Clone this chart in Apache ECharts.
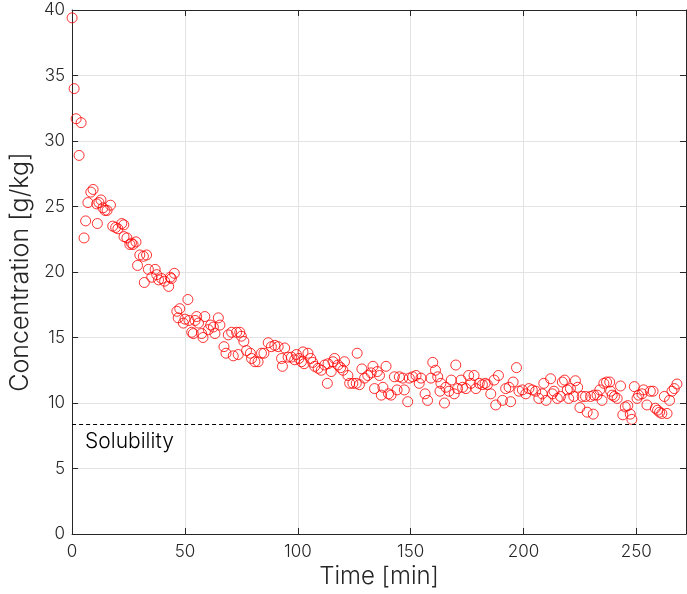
<!DOCTYPE html>
<html>
<head>
<meta charset="utf-8">
<script src="https://cdn.jsdelivr.net/npm/echarts@6/dist/echarts.min.js"></script>
<style>html,body{margin:0;padding:0;background:#fff}#c{width:687px;height:594px}</style>
</head>
<body>
<div id="c"></div>
<script>
var timeMin = [0,0.9,1.8,3.1,4.0,5.3,6.0,7.0,8.3,9.3,10.9,11.2,11.9,12.8,13.7,14.6,15.5,17.0,18.0,19.3,20.3,22.0,22.9,23.0,24.3,25.6,26.3,27.0,28.3,29.0,30.0,31.6,32.0,33.0,33.8,35.3,36.8,37.5,38.3,39.7,41.0,42.8,43.5,44.0,45.3,46.4,47.0,47.7,49.3,50.0,51.3,51.8,53.0,53.7,54.5,55.2,56.0,57.4,58.0,58.8,60.4,61.4,62.6,63.3,64.8,65.5,67.3,68.2,69.2,70.7,71.4,72.9,73.6,74.3,75.0,76.1,77.3,79.0,79.5,81.0,82.4,83.9,85.0,86.9,88.3,89.8,91.3,92.8,93.2,94.2,95.7,97.2,98.6,99.4,100.5,101.6,102.3,102.8,104.5,105.7,106.6,107.5,109.0,110.4,111.9,113.1,113.4,114.8,115.6,116.3,117.8,119.0,120.0,120.7,122.2,123.0,124.4,125.9,126.3,127.3,128.4,129.6,131.0,132.5,133.3,134.0,135.2,136.2,137.0,137.7,139.1,140.2,141.3,142.8,144.0,145.0,146.5,147.2,148.7,149.4,150.9,152.4,153.8,154.6,156.4,157.5,159.0,159.8,161.0,162.0,163.0,163.4,165.0,165.6,167.0,168.0,169.3,170.0,170.8,172.3,173.0,174.5,175.7,176.7,178.1,178.9,180.4,181.8,183.0,184.0,185.5,187.0,187.7,188.9,190.7,192.1,193.6,194.3,195.4,196.9,198.0,199.5,201.0,202.4,203.9,205.4,206.8,208.3,209.0,210.0,212.0,212.8,213.5,215.0,216.4,217.2,218.2,219.4,220.0,220.8,222.3,223.0,224.0,225.0,226.0,227.5,228.2,229.7,230.9,231.2,232.6,233.8,234.8,235.6,236.8,238.2,238.6,239.3,240.3,241.5,243.0,244.0,245.1,246.2,247.3,248.0,249.1,250.3,251.0,252.5,253.2,254.7,256.2,257.4,258.4,259.4,260.3,261.3,262.4,263.6,264.7,265.8,266.8,268.0];
var concentration = [39.4,34.0,31.7,28.9,31.4,22.6,23.9,25.3,26.1,26.3,25.2,23.7,25.3,25.5,24.9,24.7,24.7,25.1,23.5,23.4,23.3,23.7,23.6,22.7,22.6,22.1,22.2,22.1,22.3,20.5,21.3,21.2,19.2,21.3,20.2,19.6,20.2,19.8,19.4,19.5,19.3,18.9,19.6,19.5,19.9,17.0,16.5,17.2,16.1,16.4,17.9,16.3,15.4,15.3,16.3,16.6,16.1,15.3,15.0,16.6,15.6,15.95,15.8,15.3,16.5,15.95,14.3,13.8,15.2,15.4,13.6,15.4,13.7,15.4,15.1,14.7,14.0,13.8,13.4,13.15,13.15,13.8,13.8,14.6,14.3,14.4,14.3,13.4,12.8,14.2,13.5,13.5,13.3,13.7,13.4,13.15,13.9,13.0,13.8,13.4,13.1,12.8,12.65,12.5,12.9,11.5,13.0,12.4,13.15,13.4,12.9,12.7,12.5,13.15,12.1,11.5,11.5,11.5,13.8,11.4,12.6,11.9,12.1,12.3,12.8,11.1,12.4,12.1,10.6,11.2,12.8,10.7,10.6,12.0,11.0,12.0,11.9,11.0,10.1,11.9,12.0,12.1,11.5,11.9,10.7,10.2,11.9,13.1,12.5,12.0,10.9,11.5,10.0,11.2,10.9,11.75,10.7,12.9,11.1,11.75,11.2,11.1,12.1,11.5,12.1,11.1,11.5,11.4,11.5,11.4,10.7,11.75,9.85,12.1,10.2,11.1,11.2,10.1,11.6,12.7,10.9,11.0,10.7,11.1,11.0,10.9,10.35,10.7,11.5,10.2,11.85,10.7,10.9,10.35,10.5,11.6,11.75,11.0,10.35,11.1,10.5,11.7,11.2,9.65,10.5,10.5,9.3,10.5,9.15,10.6,10.6,11.0,10.2,11.5,11.6,11.6,10.9,10.6,10.5,10.35,11.3,9.1,9.7,9.8,9.15,8.75,11.25,10.35,10.6,10.7,11.0,9.85,10.9,10.9,9.6,9.45,9.3,9.2,10.5,9.2,10.2,10.9,11.1,11.45];
var solubility = 8.4;
var solubilityLabel = 'Solubility';
var xTitle = 'Time [min]';
var yTitle = 'Concentration [g/kg]';

var FONT = 'Inter, "Liberation Sans", sans-serif';
var AX = '#262626';
var chart = echarts.init(document.getElementById('c'), null, {renderer: 'canvas'});
var pts = timeMin.map(function (t, i) { return [t, concentration[i]]; });

function boxAxis(extra) {
  return Object.assign({
    type: 'value',
    axisLine: {show: true, onZero: false, lineStyle: {color: AX, width: 1}},
    axisTick: {show: true, inside: true, length: 6, lineStyle: {color: AX}},
    axisLabel: {show: false},
    splitLine: {show: false}
  }, extra);
}

chart.setOption({
  animation: false,
  backgroundColor: '#fff',
  grid: {left: 70, right: 1, top: 10, bottom: 60, containLabel: false},
  xAxis: [
    {
      type: 'value', min: 0, max: 272, interval: 50, position: 'bottom',
      name: xTitle, nameLocation: 'middle', nameGap: 28,
      nameTextStyle: {fontFamily: FONT, fontSize: 24, color: AX, fontWeight: 300},
      axisLine: {show: true, onZero: false, lineStyle: {color: AX, width: 1}},
      axisTick: {show: true, inside: true, length: 6, lineStyle: {color: AX}},
      axisLabel: {fontFamily: FONT, fontSize: 17, color: AX, margin: 9, showMaxLabel: false, fontWeight: 300},
      splitLine: {show: true, lineStyle: {color: '#e3e3e3', width: 1}}
    },
    boxAxis({min: 0, max: 272, interval: 50, position: 'top'})
  ],
  yAxis: [
    {
      type: 'value', min: 0, max: 40, interval: 5, position: 'left',
      name: yTitle, nameLocation: 'middle', nameGap: 37,
      nameTextStyle: {fontFamily: FONT, fontSize: 25, color: AX, fontWeight: 300},
      axisLine: {show: true, onZero: false, lineStyle: {color: AX, width: 1}},
      axisTick: {show: true, inside: true, length: 6, lineStyle: {color: AX}},
      axisLabel: {fontFamily: FONT, fontSize: 17, color: AX, margin: 7, fontWeight: 300},
      splitLine: {show: true, lineStyle: {color: '#e3e3e3', width: 1}}
    },
    boxAxis({min: 0, max: 40, interval: 5, position: 'right'})
  ],
  series: [{
    type: 'scatter',
    xAxisIndex: 0, yAxisIndex: 0,
    data: pts,
    symbol: 'circle',
    symbolSize: 10,
    itemStyle: {color: 'rgba(0,0,0,0)', borderColor: '#ff0000', borderWidth: 1},
    markLine: {
      silent: true,
      symbol: ['none', 'none'],
      lineStyle: {color: '#000', type: [4, 3], width: 1},
      label: {show: false},
      data: [{yAxis: solubility}]
    }
  }]
});

var p = chart.convertToPixel({xAxisIndex: 0, yAxisIndex: 0}, [0, solubility]);
chart.setOption({
  graphic: [{
    type: 'text', left: p[0] + 13, top: p[1] + 7,
    style: {text: solubilityLabel, fontFamily: FONT, fontSize: 21, fill: '#000', fontWeight: 300}
  }]
});
</script>
</body>
</html>
